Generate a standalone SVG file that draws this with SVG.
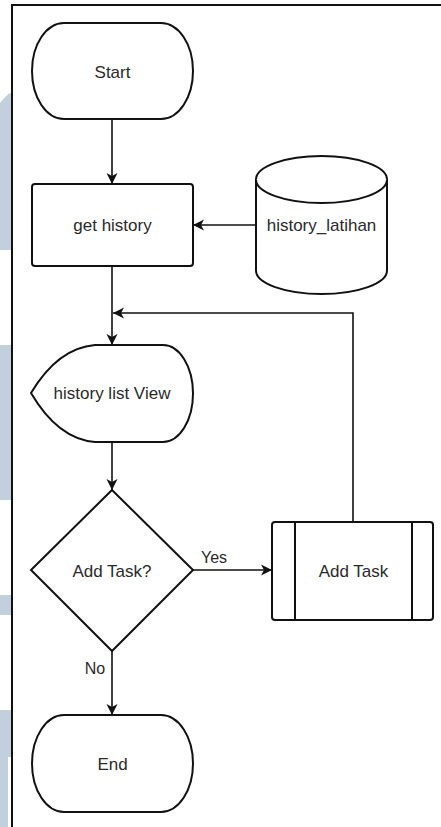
<svg xmlns="http://www.w3.org/2000/svg" width="441" height="827" viewBox="0 0 441 827">
  <style>
    .shape { fill: #ffffff; stroke: #111111; stroke-width: 2; }
    .edge { fill: none; stroke: #111111; stroke-width: 1.6; }
    .label { font-family: "Liberation Sans", Arial, sans-serif; font-size: 17px; fill: #2a2a2a; text-anchor: middle; dominant-baseline: central; }
    .backdrop { fill: #c2cfdd; }
  </style>
  <defs>
    <marker id="arrow" markerUnits="userSpaceOnUse" markerWidth="12" markerHeight="12" refX="11" refY="6" orient="auto">
      <path d="M0,0.5 L11,6 L0,11.5 L3,6 Z" fill="#111111"/>
    </marker>
  </defs>

  <rect width="441" height="827" fill="#ffffff"/>

  <!-- page backdrop along the left edge -->
  <g id="backdrop">
    <path class="backdrop" d="M0,103 Q6,95 12,92 L12,250 L0,250 Z"/>
    <rect class="backdrop" x="0" y="345" width="12" height="155"/>
    <rect class="backdrop" x="0" y="595" width="12" height="20"/>
    <rect class="backdrop" x="0" y="710" width="12" height="47"/>
    <rect class="backdrop" x="0" y="757" width="8" height="70"/>
  </g>

  <!-- frame -->
  <path d="M12,827 L12,5 L441,5" fill="none" stroke="#111111" stroke-width="2"/>

  <g id="connectors">
    <path class="edge" d="M112,119 L112,184" marker-end="url(#arrow)"/>
    <path class="edge" d="M256,225 L193,225" marker-end="url(#arrow)"/>
    <path class="edge" d="M112,266 L112,345" marker-end="url(#arrow)"/>
    <path class="edge" d="M353,522 L353,313 L113,313" marker-end="url(#arrow)"/>
    <path class="edge" d="M112,442 L112,490" marker-end="url(#arrow)"/>
    <path class="edge" d="M193,570 L272,570" marker-end="url(#arrow)"/>
    <path class="edge" d="M112,651 L112,715" marker-end="url(#arrow)"/>
    <text class="label" x="214" y="557" style="font-size:16px">Yes</text>
    <text class="label" x="95" y="668" style="font-size:16px">No</text>
  </g>

  <g id="start">
    <rect class="shape" x="32" y="23" width="161" height="96" rx="32" ry="48"/>
    <text class="label" x="112.5" y="72">Start</text>
  </g>

  <g id="get-history">
    <rect class="shape" x="32" y="184" width="161" height="82" rx="3" ry="3"/>
    <text class="label" x="112.5" y="225">get history</text>
  </g>

  <g id="history-latihan">
    <path class="shape" d="M256,179.5 A65.5,23.5 0 0 1 387,179.5 L387,270.5 A65.5,23.5 0 0 1 256,270.5 Z"/>
    <path class="shape" d="M256,179.5 A65.5,23.5 0 0 0 387,179.5" fill="none"/>
    <text class="label" x="321.5" y="225">history_latihan</text>
  </g>

  <g id="history-list-view">
    <path class="shape" d="M31,393 Q58,348 95,345 L163,345 A30,48.5 0 0 1 193,393.5 A30,48.5 0 0 1 163,442 L95,442 Q58,439 31,393 Z"/>
    <text class="label" x="112" y="393">history list View</text>
  </g>

  <g id="add-task-decision">
    <path class="shape" d="M112,490 L193,570 L112,651 L31,570 Z"/>
    <text class="label" x="112" y="571">Add Task?</text>
  </g>

  <g id="add-task">
    <rect class="shape" x="272" y="522" width="161" height="98" rx="3" ry="3"/>
    <path class="shape" d="M295,522 L295,620 M412,522 L412,620" fill="none"/>
    <text class="label" x="353.5" y="571">Add Task</text>
  </g>

  <g id="end">
    <rect class="shape" x="32" y="715" width="161" height="97" rx="32" ry="48.5"/>
    <text class="label" x="112.5" y="764">End</text>
  </g>
</svg>
